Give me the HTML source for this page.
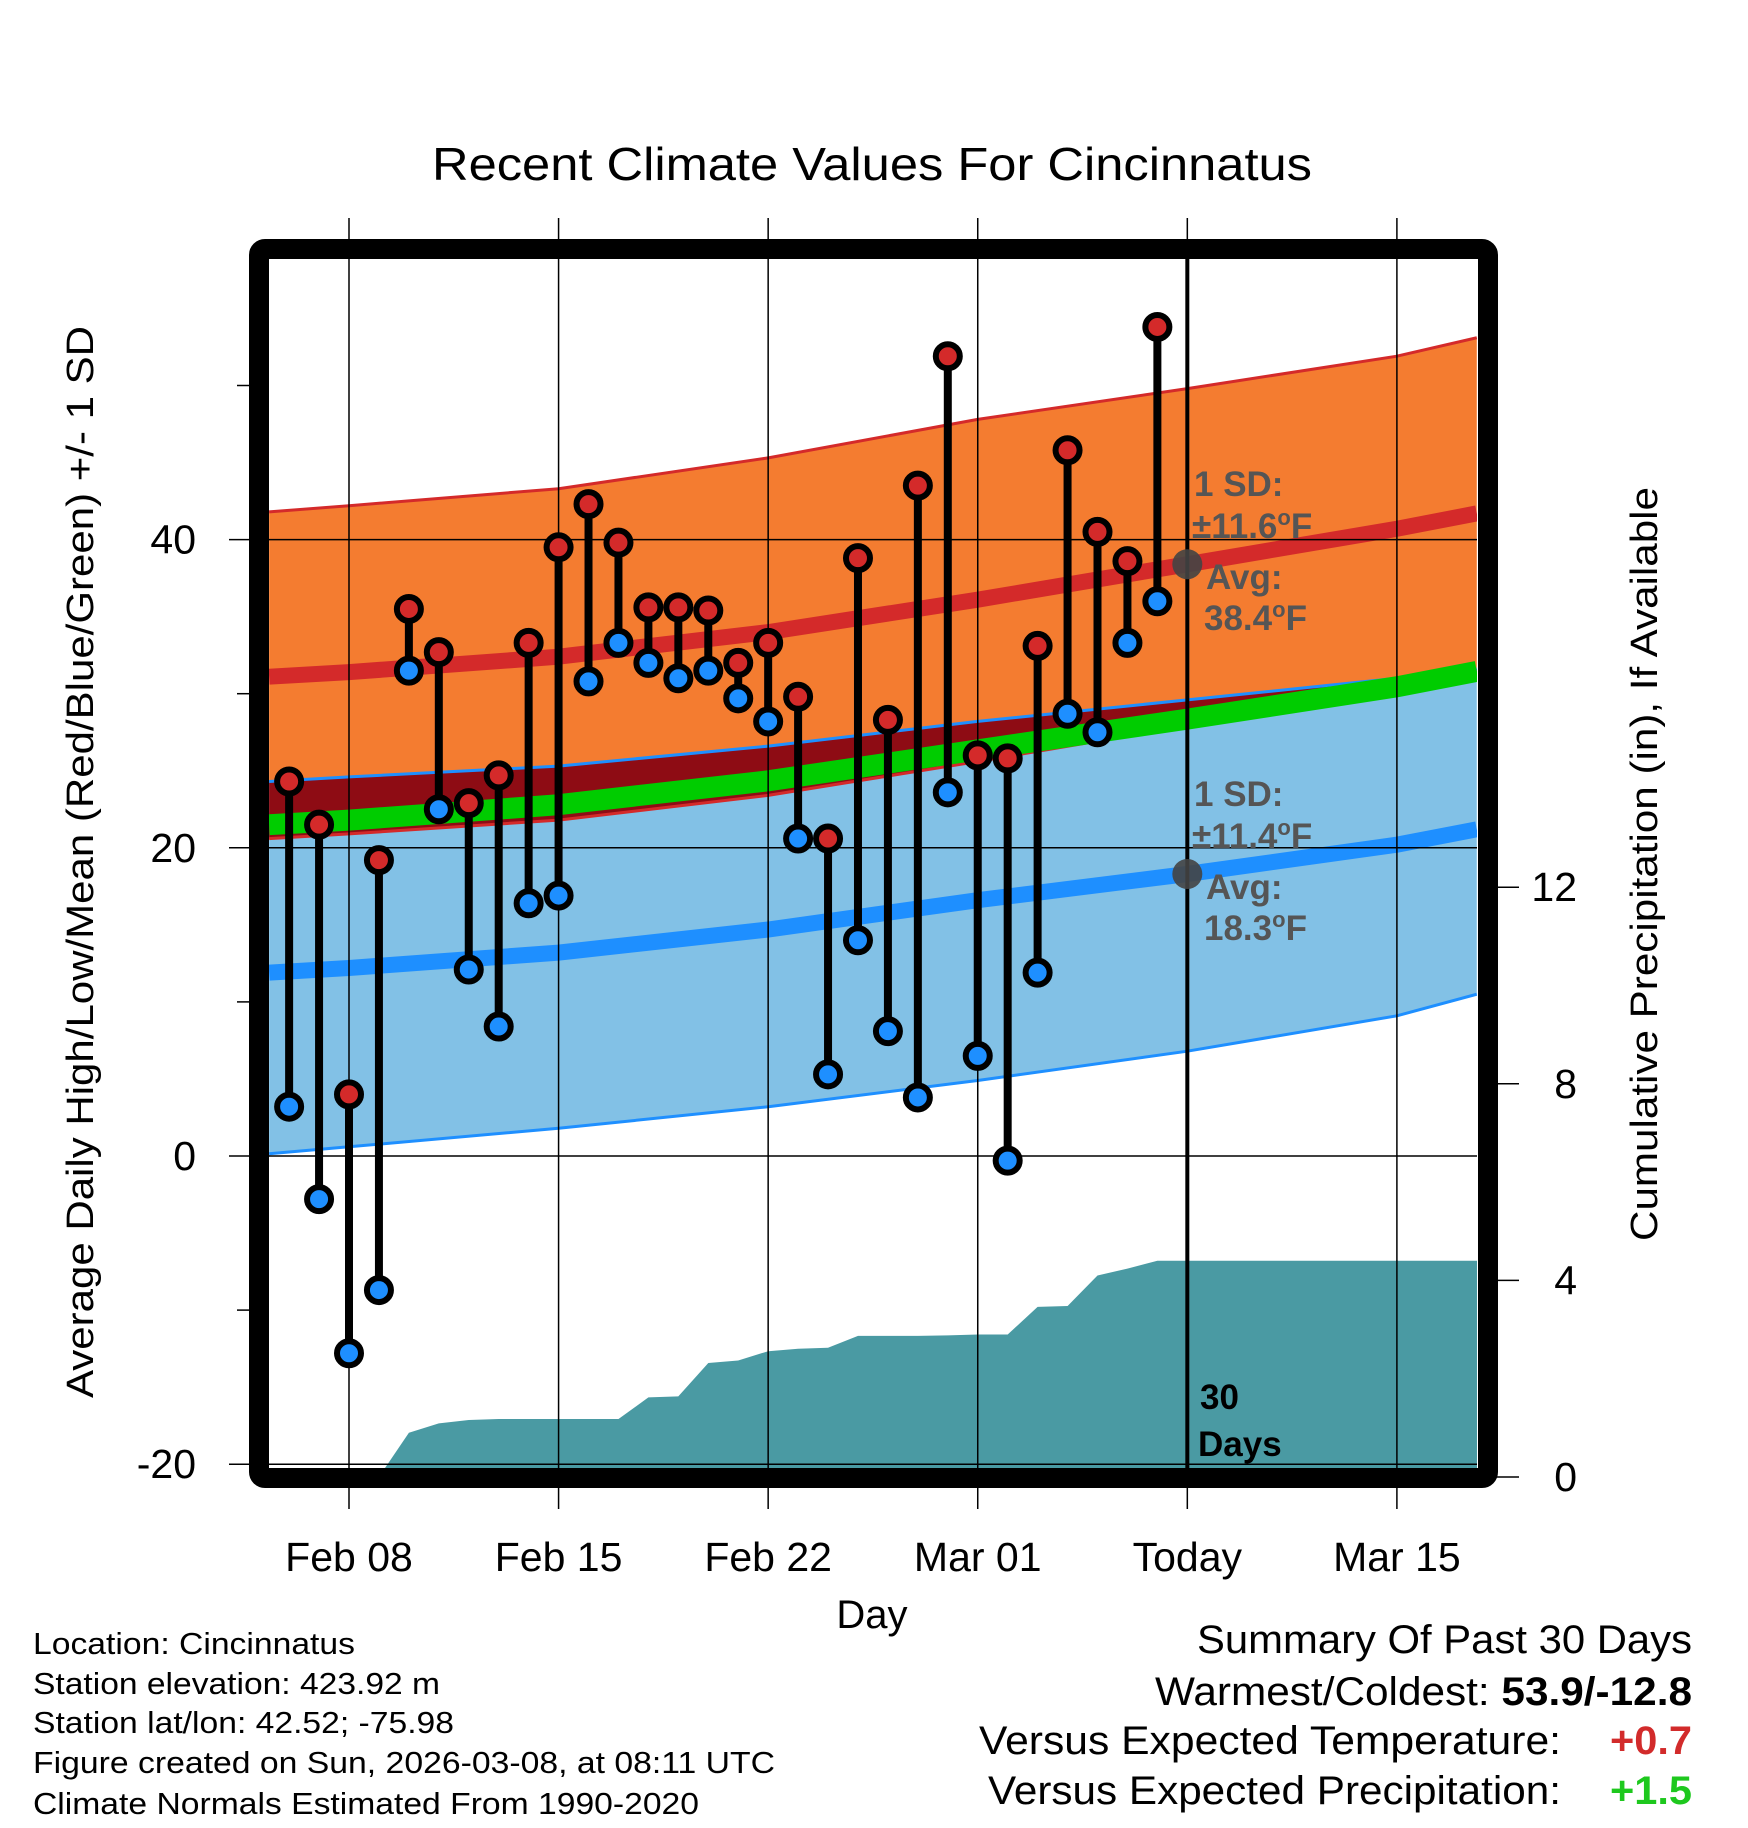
<!DOCTYPE html>
<html><head><meta charset="utf-8"><style>
html,body{margin:0;padding:0;background:#fff;width:1748px;height:1828px;overflow:hidden;}
svg{display:block;font-family:"Liberation Sans",Arial,sans-serif;}
</style></head><body>
<svg id="chart" width="1748" height="1828" viewBox="0 0 1748 1828" xmlns="http://www.w3.org/2000/svg">
<text x="872" y="180" font-size="46" text-anchor="middle" textLength="880" lengthAdjust="spacingAndGlyphs">Recent Climate Values For Cincinnatus</text>
<g id="plot"></g>
<text x="872" y="1628" font-size="40" text-anchor="middle">Day</text>
<text transform="translate(93,862) rotate(-90)" font-size="38" text-anchor="middle" textLength="1072" lengthAdjust="spacingAndGlyphs">Average Daily High/Low/Mean (Red/Blue/Green) +/- 1 SD</text>
<text transform="translate(1657,864) rotate(-90)" font-size="38" text-anchor="middle" textLength="754" lengthAdjust="spacingAndGlyphs">Cumulative Precipitation (in), If Available</text>
<g font-size="31">
<text x="33" y="1654" textLength="322" lengthAdjust="spacingAndGlyphs">Location: Cincinnatus</text>
<text x="33" y="1694" textLength="407" lengthAdjust="spacingAndGlyphs">Station elevation: 423.92 m</text>
<text x="33" y="1733" textLength="421" lengthAdjust="spacingAndGlyphs">Station lat/lon: 42.52; -75.98</text>
<text x="33" y="1773" textLength="742" lengthAdjust="spacingAndGlyphs">Figure created on Sun, 2026-03-08, at 08:11 UTC</text>
<text x="33" y="1814" textLength="666" lengthAdjust="spacingAndGlyphs">Climate Normals Estimated From 1990-2020</text>
</g>
<g font-size="40" text-anchor="end">
<text x="1692" y="1653" textLength="495" lengthAdjust="spacingAndGlyphs">Summary Of Past 30 Days</text>
<text x="1692" y="1705" textLength="537" lengthAdjust="spacingAndGlyphs">Warmest/Coldest: <tspan font-weight="bold">53.9/-12.8</tspan></text>
<text x="1561" y="1754" textLength="582" lengthAdjust="spacingAndGlyphs">Versus Expected Temperature:</text>
<text x="1692" y="1754" font-weight="bold" fill="#d22b2b" textLength="82" lengthAdjust="spacingAndGlyphs">+0.7</text>
<text x="1561" y="1804" textLength="573" lengthAdjust="spacingAndGlyphs">Versus Expected Precipitation:</text>
<text x="1692" y="1804" font-weight="bold" fill="#1ec81e" textLength="82" lengthAdjust="spacingAndGlyphs">+1.5</text>
</g>
</svg>
<script>
// ---- data ----
const dayOffsets = [-2,-1,0,1,2,3,4,5,6,7,8,9,10,11,12,13,14,15,16,17,18,19,20,21,22,23,24,25,26,27];
const highs = [24.3,21.5,4.0,19.2,35.5,32.7,22.9,24.7,33.3,39.5,42.3,39.8,35.6,35.6,35.4,32.0,33.3,29.8,20.6,38.8,28.3,43.5,51.9,26.0,25.8,33.1,45.8,40.5,38.6,53.8];
const lows = [3.2,-2.8,-12.8,-8.7,31.5,22.5,12.1,8.4,16.4,16.9,30.8,33.3,32.0,31.0,31.5,29.7,28.2,20.6,5.3,14.0,8.1,3.8,23.6,6.5,-0.3,11.9,28.7,27.5,33.3,36.0];
const precipCum = [0,0,0,0,0.9,1.09,1.16,1.18,1.18,1.18,1.18,1.18,1.62,1.64,2.32,2.37,2.56,2.61,2.63,2.87,2.87,2.87,2.88,2.9,2.9,3.46,3.48,4.1,4.24,4.4];
const normDays = [-2.67,0,7,14,21,28,35,37.67];
const highMean = [31.1,31.4,32.4,34.0,36.1,38.4,40.7,41.7];
const highUpper = [41.8,42.2,43.3,45.3,47.8,49.8,51.9,53.1];
const highLower = [20.6,20.9,21.8,23.4,25.6,27.9,30.3,31.1];
const lowMean = [11.9,12.2,13.2,14.7,16.6,18.3,20.2,21.2];
const lowUpper = [24.3,24.6,25.3,26.6,28.2,29.6,31.0,31.6];
const lowLower = [0.15,0.6,1.8,3.2,4.9,6.8,9.1,10.5];
const xTickDays = [0,7,14,21,28,35];
const xTickLabels = ["Feb 08","Feb 15","Feb 22","Mar 01","Today","Mar 15"];
const yTicks = [-20,0,20,40];
const yMinorTicks = [-10,10,30,50];
const precipTicks = [0,4,8,12];

// ---- scales ----
const X0 = 269, X1 = 1477, Y0 = 259, Y1 = 1468;
const xS = d => 349 + 29.94 * d;
const yT = t => 1156 - 15.41 * t;
const yP = p => 1477 - 49.15 * p;
const NS = "http://www.w3.org/2000/svg";
const plot = document.getElementById('plot');
function mk(tag, attrs, parent) {
  const e = document.createElementNS(NS, tag);
  for (const k in attrs) e.setAttribute(k, attrs[k]);
  (parent || plot).appendChild(e);
  return e;
}
const line = arr => normDays.map((d, i) => xS(d).toFixed(1) + ',' + yT(arr[i]).toFixed(1));
function band(up, lo) { return line(up).concat(line(lo).reverse()).join(' '); }

const clip = mk('clipPath', {id: 'clipData'});
mk('rect', {x: X0, y: Y0, width: X1 - X0, height: Y1 - Y0}, clip);
const g = mk('g', {'clip-path': 'url(#clipData)'});



let e;
e = mk('polygon', {points: band(highUpper, highLower), fill: '#f47c30'}, g);


e = mk('polygon', {points: band(lowUpper, lowLower), fill: '#82c1e6'}, g);


const ovUp = lowUpper, ovLo = highLower.map((v, i) => Math.min(v, lowUpper[i]));
e = mk('polygon', {points: band(ovUp, ovLo), fill: '#8e0c14'}, g);


[[highUpper, '#d42a2a', 'high-upper-edge'], [highLower, '#d42a2a', 'high-lower-edge'], [lowUpper, '#1e8fff', 'low-upper-edge'], [lowLower, '#1e8fff', 'low-lower-edge']].forEach(a => {
  const l = mk('polyline', {points: line(a[0]).join(' '), fill: 'none', stroke: a[1], 'stroke-width': 3}, g);
  
  
});
const meanMean = highMean.map((v, i) => (v + lowMean[i]) / 2);
e = mk('polyline', {points: line(meanMean).join(' '), fill: 'none', stroke: '#00cc00', 'stroke-width': 21}, g);


e = mk('polyline', {points: line(highMean).join(' '), fill: 'none', stroke: '#d42a2a', 'stroke-width': 16}, g);


e = mk('polyline', {points: line(lowMean).join(' '), fill: 'none', stroke: '#1e8fff', 'stroke-width': 16}, g);



let pts = [X0 + ',' + yP(0)];
dayOffsets.forEach((d, i) => pts.push(xS(d).toFixed(1) + ',' + yP(precipCum[i]).toFixed(1)));
pts.push(X1 + ',' + yP(precipCum[precipCum.length - 1]).toFixed(1));
pts.push(X1 + ',' + (Y1 + 20), X0 + ',' + (Y1 + 20));
e = mk('polygon', {points: pts.join(' '), fill: '#4a9aa3'}, g);



xTickDays.forEach((d, i) => {
  const l = mk('line', {x1: xS(d), x2: xS(d), y1: 218, y2: 1509, stroke: '#000', 'stroke-width': 1.5});
  
  
  const t = mk('text', {x: xS(d), y: 1571, 'font-size': 41, 'text-anchor': 'middle'});
  t.textContent = xTickLabels[i];
  
  
});
yTicks.forEach(v => {
  const l = mk('line', {x1: 229, x2: X1, y1: yT(v), y2: yT(v), stroke: '#000', 'stroke-width': 1.5});
  
  
  const t = mk('text', {x: 196, y: yT(v) + 14, 'font-size': 41, 'text-anchor': 'end'});
  t.textContent = v;
  
  
});
yMinorTicks.forEach(v => {
  const l = mk('line', {x1: 237, x2: 249, y1: yT(v), y2: yT(v), stroke: '#000', 'stroke-width': 1.5});
  
  
});
precipTicks.forEach(v => {
  const l = mk('line', {x1: 1490, x2: 1519, y1: yP(v), y2: yP(v), stroke: '#000', 'stroke-width': 1.5});
  
  
  const t = mk('text', {x: 1577, y: yP(v) + 14, 'font-size': 41, 'text-anchor': 'end'});
  t.textContent = v;
  
  
});

e = mk('line', {x1: xS(28), x2: xS(28), y1: Y0, y2: Y1, stroke: '#000', 'stroke-width': 4});



function ann(x, y, txt, name, color, sup) {
  const t = mk('text', {x: x, y: y, 'font-size': 35, 'font-weight': 'bold', fill: color});
  if (sup) {
    t.appendChild(document.createTextNode(txt));
    const s = mk('tspan', {dy: -13, 'font-size': 22}, t); s.textContent = 'o';
    const f = mk('tspan', {dy: 13}, t); f.textContent = 'F';
  } else t.textContent = txt;
  
  
}
const gray = '#555555';
ann(1194, 496, '1 SD:', 'high-sd-label', gray);
ann(1192, 538, '\u00b111.6', 'high-sd-value', gray, true);
ann(1206, 589, 'Avg:', 'high-avg-label', gray);
ann(1204, 630, '38.4', 'high-avg-value', gray, true);
ann(1194, 806, '1 SD:', 'low-sd-label', gray);
ann(1192, 848, '\u00b111.4', 'low-sd-value', gray, true);
ann(1206, 899, 'Avg:', 'low-avg-label', gray);
ann(1204, 940, '18.3', 'low-avg-value', gray, true);
ann(1200, 1409, '30', 'days-label', '#000');
ann(1198, 1456, 'Days', 'days-label-2', '#000');
e = mk('circle', {cx: xS(28), cy: yT(highMean[5]), r: 15, fill: '#444', opacity: 0.9});


e = mk('circle', {cx: xS(28), cy: yT(lowMean[5]), r: 15, fill: '#444', opacity: 0.9});



dayOffsets.forEach((d, i) => {
  const x = xS(d);
  const l = mk('line', {x1: x, x2: x, y1: yT(highs[i]), y2: yT(lows[i]), stroke: '#000', 'stroke-width': 8});
  
  
});
dayOffsets.forEach((d, i) => {
  const x = xS(d);
  const h = mk('circle', {cx: x, cy: yT(highs[i]), r: 12, fill: '#d42a2a', stroke: '#000', 'stroke-width': 6});
  
  
  const lo = mk('circle', {cx: x, cy: yT(lows[i]), r: 12, fill: '#1e8fff', stroke: '#000', 'stroke-width': 6});
  
  
});

e = mk('rect', {x: 259, y: 249, width: 1229, height: 1229, fill: 'none', stroke: '#000', 'stroke-width': 20, rx: 6});


</script>
</body></html>
